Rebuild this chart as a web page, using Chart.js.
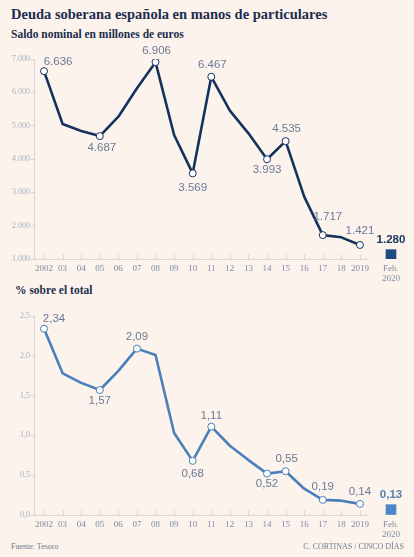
<!DOCTYPE html>
<html>
<head>
<meta charset="utf-8">
<script src="https://cdn.jsdelivr.net/npm/chart.js@4.4.1/dist/chart.umd.min.js"></script>
<style>
    body { margin: 0; background: #fcf4ec; width: 414px; height: 557px; position: relative; overflow: hidden; font-family: 'Liberation Serif', serif; }
    .t { position: absolute; left: 11px; color: #1c2d4f; white-space: nowrap; font-weight: bold; }
    #title { top: 6px; font-size: 14.5px; }
    #sub1 { top: 28px; font-size: 11.5px; }
    #sub2 { top: 284px; left: 15px; font-size: 11.5px; }
    .foot { position: absolute; top: 542px; font-size: 8px; color: #6f7a8c; white-space: nowrap; }
    #c1 { position: absolute; left: 0; top: 40px; }
    #c2 { position: absolute; left: 0; top: 300px; }
</style>
</head>
<body>
<div class="t" id="title">Deuda soberana española en manos de particulares</div>
<div class="t" id="sub1">Saldo nominal en millones de euros</div>
<div class="t" id="sub2">% sobre el total</div>
<canvas id="c1" width="414" height="250"></canvas>
<canvas id="c2" width="414" height="242"></canvas>
<div class="foot" style="left:11px">Fuente: Tesoro</div>
<div class="foot" style="right:10px">C. CORTINAS / CINCO DÍAS</div>
<script>
// data
const years = [2002, 2003, 2004, 2005, 2006, 2007, 2008, 2009, 2010, 2011, 2012, 2013, 2014, 2015, 2016, 2017, 2018, 2019];
const yearLabels = ['2002', '03', '04', '05', '06', '07', '08', '09', '10', '11', '12', '13', '14', '15', '16', '17', '18', '2019'];
const saldo = [6636, 5050, 4840, 4687, 5270, 6120, 6906, 4720, 3569, 6467, 5450, 4770, 3993, 4535, 2870, 1717, 1650, 1421];
const saldoFeb = 1280;
const pct = [2.34, 1.78, 1.66, 1.57, 1.81, 2.09, 2.01, 1.03, 0.68, 1.11, 0.87, 0.69, 0.52, 0.55, 0.33, 0.19, 0.18, 0.14];
const pctFeb = 0.13;
const febX = 2020.67; // where the Feb. 2020 bar sits on the year axis
const febLabel = ['Feb.', '2020'];

// which points get a label: [index, dx, dy]
const saldoLabels = [[0, 14, -9], [3, 2, 12], [6, 1, -11], [8, 0, 14], [9, 1, -12], [12, 0, 11], [13, 1, -12], [15, 5, -18], [17, 0, -14]];
const pctLabels = [[0, 10, -10], [3, 0, 11], [5, 0, -12], [8, 0, 13], [9, 0, -11], [12, 0, 10], [13, 1, -12], [15, 0, -13], [17, 0, -12]];

function fmtThousands(n) {
    return String(n).replace(/\B(?=(\d{3})+(?!\d))/g, '.');
}
function fmtComma(n, d) {
    return n.toFixed(d).replace('.', ',');
}

// baseline + little tick marks pointing up, like the original
const baseAxis = {
    id: 'baseAxis',
    beforeDatasetsDraw(chart) {
        const ctx = chart.ctx;
        const x = chart.scales.x;
        const y = Math.round(chart.chartArea.bottom) + 0.5;
        ctx.save();
        ctx.strokeStyle = '#d6d6da';
        ctx.lineWidth = 1;
        ctx.beginPath();
        ctx.moveTo(chart.chartArea.left, y);
        ctx.lineTo(x.getPixelForValue(2019.45), y);
        years.forEach(v => {
            const px = Math.round(x.getPixelForValue(v)) + 0.5;
            ctx.moveTo(px, y);
            ctx.lineTo(px, y - 5);
        });
        ctx.stroke();
        ctx.restore();
    }
};

function makeLabels(items, fmt, barColor) {
    return {
        id: 'pointLabels',
        afterDatasetsDraw(chart) {
            const ctx = chart.ctx;
            const ds = chart.data.datasets;
            const meta = chart.getDatasetMeta(0);
            ctx.save();
            ctx.textAlign = 'center';
            ctx.textBaseline = 'middle';
            ctx.font = '11.5px "Liberation Sans"';
            ctx.fillStyle = '#6a7a98';
            items.forEach(([i, dx, dy]) => {
                const p = meta.data[i];
                ctx.fillText(fmt(ds[0].data[i].y), p.x + dx, p.y + dy);
            });
            const bar = chart.getDatasetMeta(1).data[0];
            ctx.font = 'bold 11.5px "Liberation Sans"';
            ctx.fillStyle = barColor;
            ctx.fillText(fmt(ds[1].data[0].y[1]), bar.x, bar.y - 10);
            ctx.restore();
        }
    };
}

function createChart(el, values, febValue, yMin, yMax, step, opts) {
    const labelled = opts.labels.map(l => l[0]);
    return new Chart(document.getElementById(el), {
        data: {
            datasets: [{
                type: 'line',
                data: years.map((y, i) => ({ x: y, y: values[i] })),
                borderColor: opts.lineColor,
                borderWidth: 2.6,
                borderJoinStyle: 'round',
                tension: 0,
                pointRadius: years.map((y, i) => labelled.includes(i) ? 3.5 : 0),
                pointBackgroundColor: '#ffffff',
                pointBorderColor: opts.lineColor,
                pointBorderWidth: 1
            }, {
                type: 'bar',
                data: [{ x: febX, y: [yMin, febValue] }],
                backgroundColor: opts.barColor,
                barThickness: 10
            }]
        },
        options: {
            responsive: false,
            animation: false,
            layout: { padding: { top: opts.padTop, right: 10, left: 0, bottom: 0 } },
            plugins: {
                legend: { display: false },
                tooltip: { enabled: false }
            },
            scales: {
                x: {
                    type: 'linear',
                    offset: false,
                    min: 2001.46,
                    max: 2021.37,
                    afterBuildTicks: s => {
                        s.ticks = years.map(v => ({ value: v })).concat([{ value: febX }]);
                    },
                    afterFit: s => {
                        s.height = opts.xHeight;
                        s.paddingLeft = 0;
                        s.paddingRight = 0;
                    },
                    grid: { display: false, drawTicks: false },
                    border: { display: false },
                    ticks: {
                        autoSkip: false,
                        maxRotation: 0,
                        padding: 4,
                        color: '#7f8ca3',
                        font: { family: 'Liberation Serif', size: 9, lineHeight: 1.15 },
                        callback: (v, i) => i < yearLabels.length ? yearLabels[i] : febLabel
                    }
                },
                y: {
                    min: yMin,
                    max: yMax,
                    afterFit: s => {
                        s.width = 34;
                        s.paddingTop = 0;
                        s.paddingBottom = 0;
                    },
                    grid: { drawOnChartArea: false, tickLength: 3, color: '#d6d6da' },
                    border: { color: '#d6d6da' },
                    ticks: {
                        stepSize: step,
                        padding: 1,
                        color: '#a7b1c3',
                        font: { family: 'Liberation Serif', size: 8 },
                        callback: opts.tickFmt
                    }
                }
            }
        },
        plugins: [baseAxis, makeLabels(opts.labels, opts.fmt, opts.barLabelColor)]
    });
}

createChart('c1', saldo, saldoFeb, 1000, 7000, 1000, {
    lineColor: '#15325f',
    barColor: '#1f4a82',
    barLabelColor: '#1c3560',
    padTop: 19,
    xHeight: 31,
    labels: saldoLabels,
    fmt: fmtThousands,
    tickFmt: v => fmtThousands(v)
});

createChart('c2', pct, pctFeb, 0, 2.5, 0.5, {
    lineColor: '#4a7fbc',
    barColor: '#4b87c8',
    barLabelColor: '#5580b3',
    padTop: 16,
    xHeight: 27,
    labels: pctLabels,
    fmt: v => fmtComma(v, 2),
    tickFmt: v => fmtComma(v, 1)
});
</script>
</body>
</html>
